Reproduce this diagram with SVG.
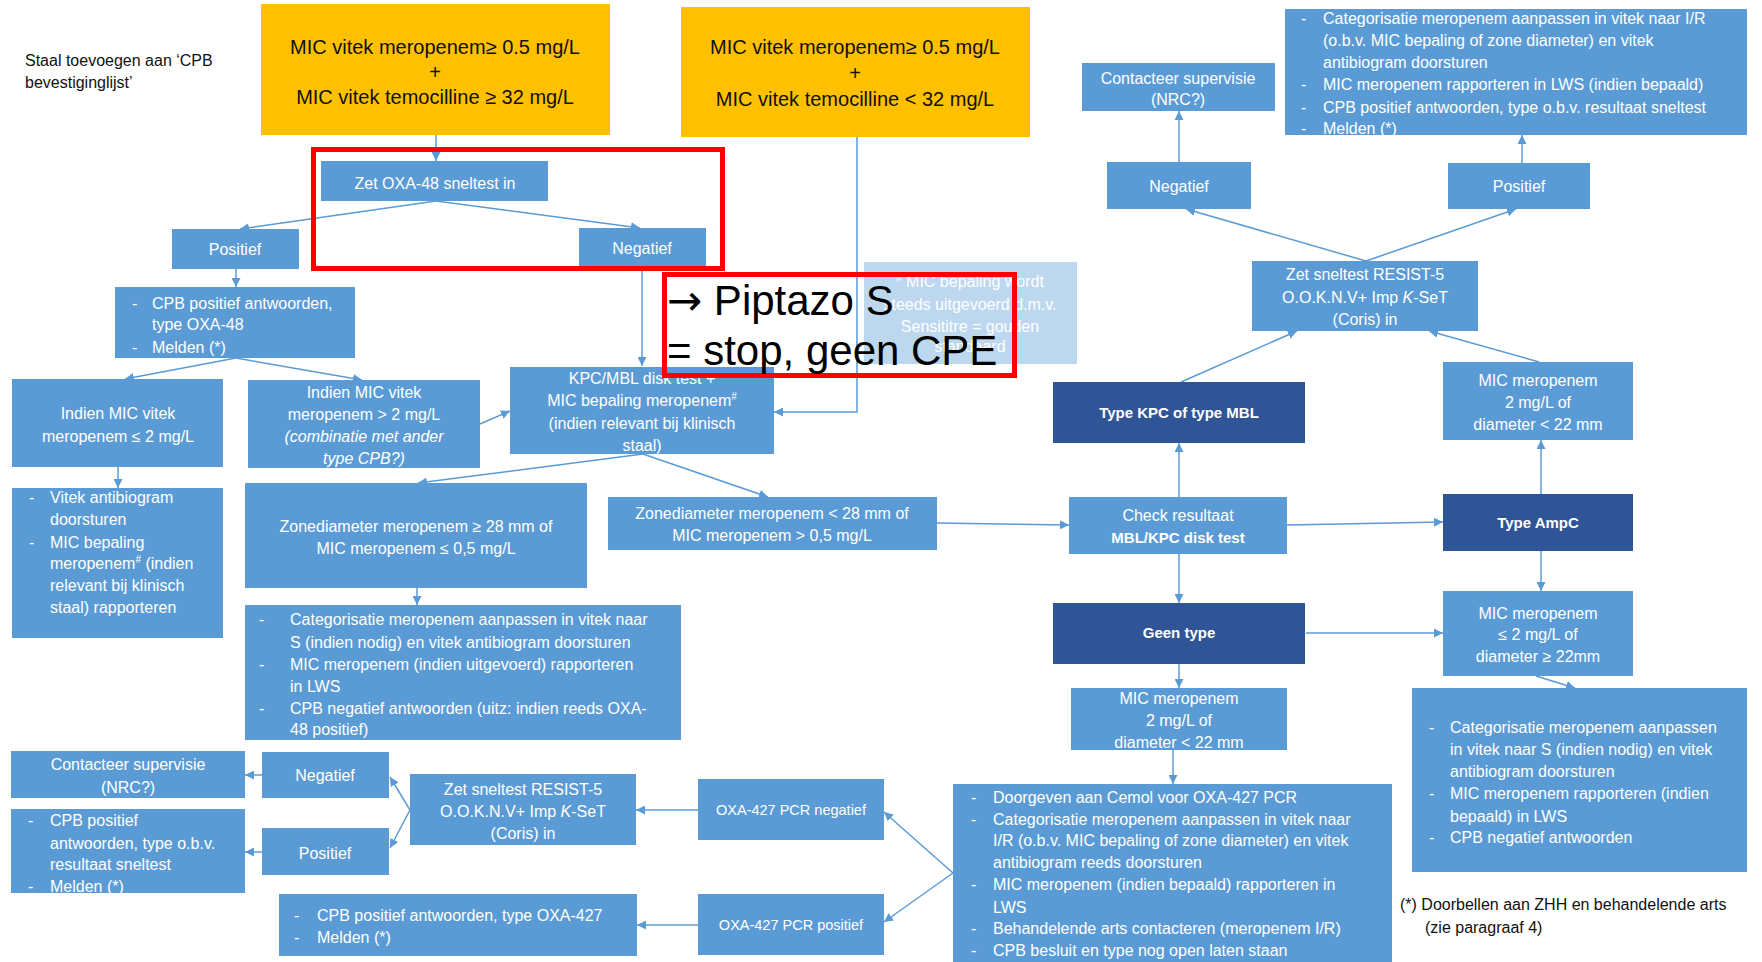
<svg xmlns="http://www.w3.org/2000/svg" width="1762" height="962" viewBox="0 0 1762 962">
<style>
  text{font-family:"Liberation Sans",Arial,sans-serif;font-size:16px;fill:#fff}
  .c{text-anchor:middle}
  .k{fill:#111}
  .b{font-weight:bold;font-size:15px}
  .y{fill:#FFC000}
  .n{fill:#5B9BD5}
  .d{fill:#2F5597}
  .lb{fill:#BDD7EE}
  .yt{font-size:20px}
  .sm{font-size:14.5px}
  .e{fill:none;stroke:#5B9BD5;stroke-width:1.5;marker-end:url(#ah)}
  .r{fill:none;stroke:#FF0000;stroke-width:5}
  .big{font-size:42px;fill:#000}
  .arr{font-family:"DejaVu Sans",sans-serif}
  .sup{font-size:10px}
</style>
<defs>
  <marker id="ah" viewBox="0 0 10 10" refX="10" refY="5" markerWidth="9" markerHeight="9" orient="auto" markerUnits="userSpaceOnUse">
    <path d="M0,0 L10,5 L0,10 z" fill="#5B9BD5"/>
  </marker>
</defs>
<rect width="1762" height="962" fill="#fff"/>

<!-- connectors -->
<g id="connectors">
  <path class="e" d="M436,135 V161"/>
  <path class="e" d="M436,201 L240,229"/>
  <path class="e" d="M436,201 L640,228"/>
  <path class="e" d="M236,269 V287"/>
  <path class="e" d="M642,269 V366"/>
  <path class="e" d="M857,137 V412 H774"/>
  <path class="e" d="M236,358 L125,379"/>
  <path class="e" d="M236,358 L362,380"/>
  <path class="e" d="M118,467 V488"/>
  <path class="e" d="M480,424 L510,411"/>
  <path class="e" d="M643,454 L418,483"/>
  <path class="e" d="M643,454 L768,497"/>
  <path class="e" d="M417,588 V605"/>
  <path class="e" d="M937,523 L1069,525"/>
  <path class="e" d="M1179,497 V443"/>
  <path class="e" d="M1179,554 V603"/>
  <path class="e" d="M1287,525 L1443,522"/>
  <path class="e" d="M1181,382 L1297,331"/>
  <path class="e" d="M1539,362 L1429,331"/>
  <path class="e" d="M1366,261 L1186,209"/>
  <path class="e" d="M1366,261 L1516,209"/>
  <path class="e" d="M1179,162 V111"/>
  <path class="e" d="M1522,163 V135"/>
  <path class="e" d="M1541,494 V440"/>
  <path class="e" d="M1541,551 V591"/>
  <path class="e" d="M1306,633 H1443"/>
  <path class="e" d="M1179,664 V688"/>
  <path class="e" d="M1173,750 V784"/>
  <path class="e" d="M1536,676 L1575,688"/>
  <path class="e" d="M953,873 L884,812"/>
  <path class="e" d="M953,873 L884,922"/>
  <path class="e" d="M698,810 H636"/>
  <path class="e" d="M698,925 H637"/>
  <path class="e" d="M410,810 L390,777"/>
  <path class="e" d="M410,810 L390,848"/>
  <path class="e" d="M262,775 H245"/>
  <path class="e" d="M262,852 H245"/>
</g>

<!-- free text -->
<g id="note-staal">
  <text class="k" x="25" y="66">Staal toevoegen aan ‘CPB</text>
  <text class="k" x="25" y="88">bevestiginglijst’</text>
</g>
<g id="footnote">
  <text class="k" x="1400" y="910">(*) Doorbellen aan ZHH en behandelende arts</text>
  <text class="k" x="1425" y="933">(zie paragraaf  4)</text>
</g>

<!-- left branch -->
<g id="start-temo-high">
  <rect class="y" x="261" y="4" width="349" height="131"/>
  <text class="k c yt" x="435" y="54">MIC vitek meropenem≥  0.5 mg/L</text>
  <text class="k c yt" x="435" y="79">+</text>
  <text class="k c yt" x="435" y="104">MIC vitek temocilline ≥ 32 mg/L</text>
</g>
<g id="oxa48-test">
  <rect class="n" x="321" y="161" width="227" height="40"/>
  <text class="c" x="435" y="189">Zet OXA-48 sneltest in</text>
</g>
<g id="oxa48-pos">
  <rect class="n" x="172" y="229" width="127" height="40"/>
  <text class="c" x="235" y="255">Positief</text>
</g>
<g id="oxa48-neg">
  <rect class="n" x="579" y="228" width="127" height="41"/>
  <text class="c" x="642" y="254">Negatief</text>
</g>
<g id="oxa48-report">
  <rect class="n" x="115" y="287" width="240" height="71"/>
  <text x="132" y="309">-</text><text x="152" y="309">CPB positief antwoorden,</text>
  <text x="152" y="330">type OXA-48</text>
  <text x="132" y="353">-</text><text x="152" y="353">Melden (*)</text>
</g>
<g id="mic-le2">
  <rect class="n" x="12" y="379" width="211" height="88"/>
  <text class="c" x="118" y="419">Indien MIC vitek</text>
  <text class="c" x="118" y="442">meropenem ≤ 2 mg/L</text>
</g>
<g id="mic-gt2">
  <rect class="n" x="248" y="380" width="232" height="88"/>
  <text class="c" x="364" y="398">Indien MIC vitek</text>
  <text class="c" x="364" y="420">meropenem &gt; 2 mg/L</text>
  <text class="c" x="364" y="442" font-style="italic">(combinatie met ander</text>
  <text class="c" x="364" y="464" font-style="italic">type CPB?)</text>
</g>
<g id="le2-report">
  <rect class="n" x="12" y="488" width="211" height="150"/>
  <text x="29" y="503">-</text><text x="50" y="503">Vitek antibiogram</text>
  <text x="50" y="525">doorsturen</text>
  <text x="29" y="548">-</text><text x="50" y="548">MIC bepaling</text>
  <text x="50" y="569">meropenem<tspan class="sup" dy="-6">#</tspan><tspan dy="6"> (indien</tspan></text>
  <text x="50" y="591">relevant bij klinisch</text>
  <text x="50" y="613">staal) rapporteren</text>
</g>

<!-- middle branch -->
<g id="start-temo-low">
  <rect class="y" x="681" y="7" width="349" height="130"/>
  <text class="k c yt" x="855" y="54">MIC vitek meropenem≥  0.5 mg/L</text>
  <text class="k c yt" x="855" y="80">+</text>
  <text class="k c yt" x="855" y="106">MIC vitek temocilline &lt; 32 mg/L</text>
</g>
<g id="kpc-mbl-disk">
  <rect class="n" x="510" y="367" width="264" height="87"/>
  <text class="c" x="642" y="384">KPC/MBL disk test +</text>
  <text class="c" x="642" y="406">MIC bepaling meropenem<tspan class="sup" dy="-6">#</tspan></text>
  <text class="c" x="642" y="429">(indien relevant bij klinisch</text>
  <text class="c" x="642" y="451">staal)</text>
</g>
<g id="zone-ge28">
  <rect class="n" x="245" y="483" width="342" height="105"/>
  <text class="c" x="416" y="532">Zonediameter meropenem ≥ 28 mm  of</text>
  <text class="c" x="416" y="554">MIC meropenem ≤ 0,5 mg/L</text>
</g>
<g id="zone-lt28">
  <rect class="n" x="608" y="497" width="329" height="53"/>
  <text class="c" x="772" y="519">Zonediameter meropenem &lt; 28 mm  of</text>
  <text class="c" x="772" y="541">MIC meropenem &gt; 0,5 mg/L</text>
</g>
<g id="report-s">
  <rect class="n" x="245" y="605" width="436" height="135"/>
  <text x="259" y="625">-</text><text x="290" y="625">Categorisatie meropenem aanpassen in vitek naar</text>
  <text x="290" y="648">S (indien nodig) en vitek antibiogram doorsturen</text>
  <text x="259" y="670">-</text><text x="290" y="670">MIC meropenem (indien uitgevoerd) rapporteren</text>
  <text x="290" y="692">in LWS</text>
  <text x="259" y="714">-</text><text x="290" y="714">CPB negatief antwoorden (uitz: indien reeds OXA-</text>
  <text x="290" y="735">48  positief)</text>
</g>
<g id="sensititre-note">
  <rect class="lb" x="864" y="262" width="213" height="102"/>
  <text class="c" x="970" y="287"><tspan class="sup" dy="-5">#</tspan><tspan dy="5"> MIC bepaling wordt</tspan></text>
  <text class="c" x="970" y="310">steeds uitgevoerd d.m.v.</text>
  <text class="c" x="970" y="332">Sensititre = gouden</text>
  <text class="c" x="970" y="352">standaard</text>
</g>

<!-- right branch -->
<g id="check-disk">
  <rect class="n" x="1069" y="497" width="218" height="57"/>
  <text class="c" x="1178" y="521">Check resultaat</text>
  <text class="c b" x="1178" y="543">MBL/KPC disk test</text>
</g>
<g id="type-kpc-mbl">
  <rect class="d" x="1053" y="382" width="252" height="61"/>
  <text class="c b" x="1179" y="418">Type KPC of type MBL</text>
</g>
<g id="geen-type">
  <rect class="d" x="1053" y="603" width="252" height="61"/>
  <text class="c b" x="1179" y="638">Geen type</text>
</g>
<g id="type-ampc">
  <rect class="d" x="1443" y="494" width="190" height="57"/>
  <text class="c b" x="1538" y="528">Type AmpC</text>
</g>
<g id="ampc-mic-high">
  <rect class="n" x="1443" y="362" width="190" height="78"/>
  <text class="c" x="1538" y="386">MIC meropenem</text>
  <text class="c" x="1538" y="408">2 mg/L of</text>
  <text class="c" x="1538" y="430">diameter &lt; 22 mm</text>
</g>
<g id="ampc-mic-low">
  <rect class="n" x="1443" y="591" width="190" height="85"/>
  <text class="c" x="1538" y="619">MIC meropenem</text>
  <text class="c" x="1538" y="640">≤ 2 mg/L of</text>
  <text class="c" x="1538" y="662">diameter ≥ 22mm</text>
</g>
<g id="resist5-right">
  <rect class="n" x="1252" y="261" width="226" height="70"/>
  <text class="c" x="1365" y="280">Zet sneltest RESIST-5</text>
  <text class="c" x="1365" y="303">O.O.K.N.V+ Imp <tspan font-style="italic">K</tspan>-SeT</text>
  <text class="c" x="1365" y="325">(Coris) in</text>
</g>
<g id="resist5-right-neg">
  <rect class="n" x="1107" y="162" width="144" height="47"/>
  <text class="c" x="1179" y="192">Negatief</text>
</g>
<g id="resist5-right-pos">
  <rect class="n" x="1448" y="163" width="142" height="46"/>
  <text class="c" x="1519" y="192">Positief</text>
</g>
<g id="supervisie-right">
  <rect class="n" x="1082" y="63" width="193" height="48"/>
  <text class="c" x="1178" y="84">Contacteer supervisie</text>
  <text class="c" x="1178" y="105">(NRC?)</text>
</g>
<g id="report-ir">
  <rect class="n" x="1285" y="9" width="462" height="126"/>
  <text x="1301" y="24">-</text><text x="1323" y="24">Categorisatie meropenem aanpassen in vitek naar I/R</text>
  <text x="1323" y="46">(o.b.v. MIC bepaling of zone diameter) en vitek</text>
  <text x="1323" y="68">antibiogram doorsturen</text>
  <text x="1301" y="90">-</text><text x="1323" y="90">MIC meropenem rapporteren in LWS (indien bepaald)</text>
  <text x="1301" y="113">-</text><text x="1323" y="113">CPB positief antwoorden, type o.b.v. resultaat sneltest</text>
  <text x="1301" y="134">-</text><text x="1323" y="134">Melden (*)</text>
</g>
<g id="report-s-right">
  <rect class="n" x="1412" y="688" width="335" height="184"/>
  <text x="1429" y="733">-</text><text x="1450" y="733">Categorisatie meropenem aanpassen</text>
  <text x="1450" y="755">in vitek naar S (indien nodig) en vitek</text>
  <text x="1450" y="777">antibiogram doorsturen</text>
  <text x="1429" y="799">-</text><text x="1450" y="799">MIC meropenem rapporteren (indien</text>
  <text x="1450" y="822">bepaald) in LWS</text>
  <text x="1429" y="843">-</text><text x="1450" y="843">CPB negatief antwoorden</text>
</g>

<!-- lower branch -->
<g id="geen-mic">
  <rect class="n" x="1071" y="688" width="216" height="62"/>
  <text class="c" x="1179" y="704">MIC meropenem</text>
  <text class="c" x="1179" y="726">2 mg/L of</text>
  <text class="c" x="1179" y="748">diameter &lt; 22 mm</text>
</g>
<g id="report-oxa427-pcr">
  <rect class="n" x="953" y="784" width="439" height="178"/>
  <text x="971" y="803">-</text><text x="993" y="803">Doorgeven aan Cemol voor OXA-427 PCR</text>
  <text x="971" y="825">-</text><text x="993" y="825">Categorisatie meropenem aanpassen in vitek naar</text>
  <text x="993" y="846">I/R (o.b.v. MIC bepaling of zone diameter) en vitek</text>
  <text x="993" y="868">antibiogram reeds doorsturen</text>
  <text x="971" y="890">-</text><text x="993" y="890">MIC meropenem (indien bepaald) rapporteren in</text>
  <text x="993" y="913">LWS</text>
  <text x="971" y="934">-</text><text x="993" y="934">Behandelende arts contacteren (meropenem I/R)</text>
  <text x="971" y="956">-</text><text x="993" y="956">CPB besluit en type nog open laten staan</text>
</g>
<g id="pcr-neg">
  <rect class="n" x="698" y="779" width="186" height="61"/>
  <text class="c sm" x="791" y="815">OXA-427 PCR negatief</text>
</g>
<g id="pcr-pos">
  <rect class="n" x="698" y="894" width="186" height="61"/>
  <text class="c sm" x="791" y="930">OXA-427 PCR positief</text>
</g>
<g id="resist5-left">
  <rect class="n" x="410" y="774" width="226" height="71"/>
  <text class="c" x="523" y="795">Zet sneltest RESIST-5</text>
  <text class="c" x="523" y="817">O.O.K.N.V+ Imp <tspan font-style="italic">K</tspan>-SeT</text>
  <text class="c" x="523" y="839">(Coris) in</text>
</g>
<g id="resist5-left-neg">
  <rect class="n" x="262" y="752" width="127" height="46"/>
  <text class="c" x="325" y="781">Negatief</text>
</g>
<g id="resist5-left-pos">
  <rect class="n" x="262" y="828" width="127" height="47"/>
  <text class="c" x="325" y="859">Positief</text>
</g>
<g id="supervisie-left">
  <rect class="n" x="11" y="751" width="234" height="47"/>
  <text class="c" x="128" y="770">Contacteer supervisie</text>
  <text class="c" x="128" y="793">(NRC?)</text>
</g>
<g id="report-pos-left">
  <rect class="n" x="11" y="809" width="234" height="84"/>
  <text x="28" y="826">-</text><text x="50" y="826">CPB positief</text>
  <text x="50" y="849">antwoorden, type o.b.v.</text>
  <text x="50" y="870">resultaat sneltest</text>
  <text x="28" y="892">-</text><text x="50" y="892">Melden (*)</text>
</g>
<g id="report-oxa427">
  <rect class="n" x="279" y="894" width="358" height="62"/>
  <text x="294" y="921">-</text><text x="317" y="921">CPB positief antwoorden, type OXA-427</text>
  <text x="294" y="943">-</text><text x="317" y="943">Melden (*)</text>
</g>

<!-- red annotations -->
<g id="annotation">
  <rect class="r" x="313.5" y="149.5" width="409" height="119"/>
  <rect class="r" x="664.5" y="274.5" width="350" height="101"/>
  <text class="big" x="667" y="315"><tspan class="arr">→</tspan> Piptazo S</text>
  <text class="big" x="667" y="365">= stop, geen CPE</text>
</g>
</svg>
